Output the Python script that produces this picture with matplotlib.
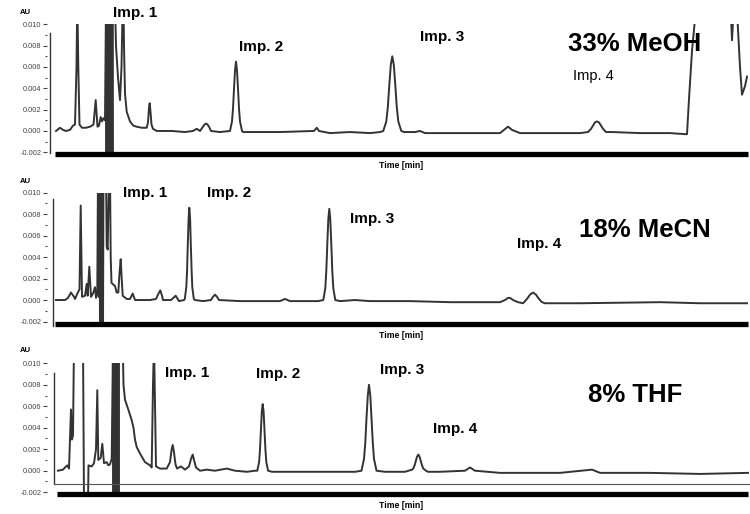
import matplotlib
matplotlib.use('Agg')
import matplotlib.pyplot as plt

plt.rcParams['font.family'] = ['Liberation Sans', 'DejaVu Sans']

# (retention time, absorbance AU)
meoh_trace = [
    (0.4, 0.0), (0.8, 0.0003), (1.1, 0.0001), (1.4, 0.0), (1.8, 0.0001), (2.1, 0.0005),
    (2.3, 0.0006), (2.45, 0.006), (2.53, 0.0125), (2.63, 0.006), (2.75, 0.0006), (3.0, 0.0003),
    (3.4, 0.0003), (3.8, 0.0004), (4.15, 0.0006), (4.37, 0.0029), (4.55, 0.0004), (4.7, 0.0005),
    (4.87, 0.0013), (5.0, 0.0009), (5.15, 0.0012), (5.3, 0.0010),
    (5.40, 0.012), (5.45, -0.003), (5.50, 0.012), (5.55, -0.003), (5.60, 0.012), (5.65, -0.003),
    (5.70, 0.012), (5.75, -0.003), (5.80, 0.012), (5.85, -0.003), (5.90, 0.012), (5.95, -0.003),
    (6.00, 0.012), (6.05, -0.003), (6.08, 0.012),
    (6.3, 0.012), (6.4, 0.008), (6.6, 0.005), (6.8, 0.0029), (6.95, 0.006), (7.07, 0.012),
    (7.15, 0.012), (7.2, 0.008), (7.3, 0.0035), (7.47, 0.0018), (7.8, 0.0009), (8.13, 0.0005),
    (8.47, 0.0004), (8.97, 0.0003), (9.47, 0.0003), (9.6, 0.0008), (9.7, 0.0022), (9.77, 0.0026),
    (9.85, 0.0018), (9.95, 0.0006), (10.1, 0.0002), (10.47, 0.0), (11.97, 0.0), (13.3, -0.0001),
    (14.1, 0.0), (14.47, 0.0002), (14.8, 0.0), (15.1, 0.0004), (15.25, 0.0006), (15.4, 0.0007),
    (15.55, 0.0006), (15.7, 0.0004), (15.9, 0.0), (16.8, -0.0001),
    (17.8, 0.0), (18.0, 0.0009), (18.1, 0.0021), (18.2, 0.0040), (18.3, 0.0057), (18.4, 0.0065),
    (18.5, 0.0057), (18.6, 0.0040), (18.7, 0.0021), (18.8, 0.0009), (19.0, 0.0), (19.1, -0.0001),
    (19.8, -0.0001), (22.8, -0.0001), (26.2, 0.0), (26.47, 0.0003), (26.7, 0.0), (27.8, -0.0002),
    (29.8, -0.0001), (31.8, -0.0002), (32.8, -0.0001),
    (33.13, 0.0), (33.43, 0.0009), (33.58, 0.0022), (33.73, 0.0043), (33.88, 0.0062),
    (34.03, 0.0070), (34.18, 0.0062), (34.33, 0.0043), (34.48, 0.0022), (34.63, 0.0009),
    (34.93, 0.0), (35.2, -0.0001),
    (36.3, -0.0001), (36.8, 0.0), (37.3, -0.0002), (39.8, -0.0002), (42.8, -0.0002),
    (44.8, -0.0002), (45.2, 0.0001), (45.45, 0.0003), (45.6, 0.0004), (45.75, 0.0003),
    (46.0, 0.0001), (46.8, -0.0002), (49.8, -0.0002), (52.8, -0.0002),
    (53.6, -0.0001), (53.9, 0.0002), (54.1, 0.0005), (54.3, 0.0008), (54.5, 0.0009),
    (54.7, 0.0008), (54.9, 0.0005), (55.1, 0.0002), (55.4, -0.0001), (56.0, -0.0001),
    (58.8, -0.0002), (61.8, -0.0002), (63.3, -0.0003), (63.5, -0.0003), (63.7, 0.0030),
    (64.0, 0.0075), (64.3, 0.0105), (64.6, 0.013), (67.8, 0.013), (68.0, 0.0085), (68.2, 0.012),
    (68.4, 0.013), (68.6, 0.0095), (68.8, 0.0060), (69.0, 0.0034), (69.3, 0.0042), (69.5, 0.0051),
]

mecn_trace = [
    (0.4, 0.0), (1.3, 0.0), (1.6, 0.0002), (1.9, 0.0007), (2.2, 0.0003), (2.3, 0.0001),
    (2.53, 0.0006), (2.75, 0.001), (2.87, 0.0088), (3.0, 0.0003), (3.3, 0.0004), (3.47, 0.0015),
    (3.57, 0.0004), (3.73, 0.0031), (3.9, 0.0003), (4.1, 0.0006), (4.3, 0.0012), (4.4, 0.0002),
    (4.53, 0.0010), (4.6, 0.012), (4.67, 0.0003), (4.75, 0.012), (4.8, -0.003), (4.87, 0.012),
    (4.95, -0.003), (5.05, 0.012), (5.1, -0.003), (5.15, 0.012), (5.4, 0.012), (5.47, 0.0050),
    (5.57, 0.0047), (5.7, 0.012), (5.8, 0.012), (5.87, 0.0040), (5.95, 0.0016), (6.3, 0.0013),
    (6.47, 0.0007), (6.63, 0.0007), (6.75, 0.0025), (6.87, 0.0038), (6.97, 0.0020),
    (7.07, 0.0004), (7.47, 0.0001), (7.8, 0.0001), (8.07, 0.0006), (8.3, 0.0), (9.8, 0.0),
    (10.4, 0.0001), (10.65, 0.0006), (10.83, 0.0009), (11.0, 0.0004), (11.1, 0.0), (11.9, 0.0),
    (12.37, 0.0004), (12.7, -0.0001),
    (13.2, 0.0), (13.28, 0.0001), (13.43, 0.0012), (13.51, 0.0028), (13.58, 0.0052),
    (13.66, 0.0076), (13.73, 0.0086), (13.81, 0.0076), (13.88, 0.0052), (13.96, 0.0028),
    (14.03, 0.0012), (14.18, 0.0001), (14.3, 0.0),
    (15.1, -0.0001), (15.9, 0.0), (16.1, 0.0003), (16.3, 0.0005), (16.5, 0.0003), (16.7, 0.0),
    (18.8, -0.0001), (22.8, -0.0001), (23.3, 0.0001), (23.8, -0.0001), (26.6, -0.0001),
    (27.13, 0.0), (27.33, 0.0011), (27.43, 0.0027), (27.53, 0.0052), (27.63, 0.0075),
    (27.73, 0.0085), (27.83, 0.0075), (27.93, 0.0052), (28.03, 0.0027), (28.13, 0.0011),
    (28.33, 0.0), (28.8, -0.0001),
    (30.3, 0.0), (31.8, -0.0001), (35.8, -0.0001), (39.8, -0.0002), (42.8, -0.0002),
    (44.8, -0.0002), (45.3, 0.0), (45.6, 0.0002), (45.8, 0.0002), (46.1, 0.0), (46.6, -0.0002),
    (47.1, -0.0003), (47.5, 0.0001), (47.8, 0.0005), (48.1, 0.0007), (48.4, 0.0005),
    (48.7, 0.0001), (49.0, -0.0002), (49.3, -0.0003), (52.8, -0.0003), (60.8, -0.0002),
    (64.8, -0.0003), (69.5, -0.0003),
]

thf_trace = [
    (0.6, 0.0), (1.1, 0.0001), (1.3, 0.0003), (1.53, 0.0005), (1.7, 0.0002), (1.8, 0.0029),
    (1.9, 0.0057), (2.0, 0.0029), (2.1, 0.0033), (2.2, 0.012), (3.1, 0.012), (3.2, -0.003),
    (3.6, -0.003), (3.65, 0.0005), (3.97, 0.0004), (4.2, 0.0007), (4.4, 0.0020), (4.53, 0.0075),
    (4.63, 0.0010), (4.87, 0.0012), (5.03, 0.0025), (5.2, 0.0007), (5.47, 0.0008),
    (5.63, 0.0005), (5.8, 0.0006), (5.97, 0.0011),
    (6.10, 0.012), (6.15, -0.003), (6.20, 0.012), (6.25, -0.003), (6.30, 0.012), (6.35, -0.003),
    (6.40, 0.012), (6.45, -0.003), (6.50, 0.012), (6.55, -0.003), (6.60, 0.012), (6.65, -0.003),
    (6.70, 0.012),
    (7.07, 0.012), (7.15, 0.008), (7.3, 0.0066), (7.63, 0.0057), (7.97, 0.0047), (8.15, 0.0040),
    (8.3, 0.0029), (8.47, 0.0022), (8.8, 0.0016), (9.3, 0.0008), (9.8, 0.0005), (9.97, 0.0003),
    (10.1, 0.008), (10.2, 0.012), (10.3, 0.006), (10.4, 0.0004), (10.8, 0.0002), (11.47, 0.0002),
    (11.8, 0.0008), (11.95, 0.0019), (12.07, 0.0024), (12.2, 0.0017), (12.35, 0.0006),
    (12.5, 0.0002), (12.9, 0.0004), (13.3, 0.0001), (13.7, 0.0004), (13.9, 0.0011),
    (14.07, 0.0015), (14.2, 0.0010), (14.4, 0.0003), (14.8, 0.0), (15.47, 0.0001), (16.3, 0.0),
    (17.47, 0.0002), (18.3, 0.0), (19.5, -0.0001),
    (20.3, 0.0), (20.53, 0.0), (20.71, 0.0008), (20.8, 0.0020), (20.89, 0.0038), (20.98, 0.0055),
    (21.07, 0.0062), (21.16, 0.0055), (21.25, 0.0038), (21.34, 0.0020), (21.43, 0.0008),
    (21.61, 0.0), (22.0, -0.0001), (24.8, -0.0001), (27.8, -0.0001), (30.3, -0.0001),
    (30.95, 0.0), (31.2, 0.0011), (31.33, 0.0026), (31.45, 0.0049), (31.58, 0.0070),
    (31.7, 0.0080), (31.83, 0.0070), (31.95, 0.0049), (32.08, 0.0026), (32.2, 0.0011),
    (32.45, 0.0), (33.3, -0.0001),
    (35.3, -0.0001), (36.0, 0.0001), (36.13, 0.0002), (36.26, 0.0005), (36.38, 0.0009),
    (36.5, 0.0013), (36.63, 0.0015), (36.76, 0.0013), (36.88, 0.0009), (37.0, 0.0005),
    (37.13, 0.0002), (37.4, 0.0), (37.6, -0.0001), (38.8, -0.0001), (41.3, 0.0),
    (41.8, 0.0003), (42.3, 0.0), (44.8, -0.0002), (50.8, -0.0002), (54.0, 0.0001),
    (54.8, -0.0002), (59.8, -0.0002), (64.8, -0.0003), (69.6, -0.0002),
]

major_ticks = [-0.002, 0.0, 0.002, 0.004, 0.006, 0.008, 0.010]
minor_ticks = [-0.001, 0.001, 0.003, 0.005, 0.007, 0.009]
tick_labels = ['-0.002', '0.000', '0.002', '0.004', '0.006', '0.008', '0.010']

W, H = 750, 514
fig = plt.figure(figsize=(7.5, 5.14), dpi=100)

panels = [
    dict(trace=meoh_trace, top=24.3, bot=152.3, spine_x=-0.2, spine_top=0.0092,
         spine_bot=-0.0021, bar_x0=0.3, thin=None,
         au=13, time_y=166, title='33% MeOH', title_xy=(568, 44),
         imps=[('Imp. 1', 113, 13, 'bold'), ('Imp. 2', 239, 47, 'bold'),
               ('Imp. 3', 420, 37, 'bold'), ('Imp. 4', 573, 76, 'normal')]),
    dict(trace=mecn_trace, top=192.7, bot=321.5, spine_x=0.07, spine_top=0.0094,
         spine_bot=-0.0024, bar_x0=0.3, thin=None,
         au=181, time_y=335, title='18% MeCN', title_xy=(579, 230),
         imps=[('Imp. 1', 123, 193, 'bold'), ('Imp. 2', 207, 193, 'bold'),
               ('Imp. 3', 350, 219, 'bold'), ('Imp. 4', 517, 244, 'bold')]),
    dict(trace=thf_trace, top=363.3, bot=492.2, spine_x=0.2, spine_top=0.0091,
         spine_bot=-0.00127, bar_x0=0.5, thin=-0.00127,
         au=351, time_y=505, title='8% THF', title_xy=(588, 395),
         imps=[('Imp. 1', 165, 373, 'bold'), ('Imp. 2', 256, 374, 'bold'),
               ('Imp. 3', 380, 370, 'bold'), ('Imp. 4', 433, 429, 'bold')]),
]

for p in panels:
    ax = fig.add_axes([47 / W, 1 - p['bot'] / H, 703 / W, (p['bot'] - p['top']) / H])
    t = [pt[0] for pt in p['trace']]
    au = [pt[1] for pt in p['trace']]
    ax.plot(t, au, color='#333333', lw=1.4, solid_joinstyle='round')
    ax.set_xlim(-0.5, 69.8)
    ax.set_ylim(-0.002, 0.010)
    for s in ['top', 'right', 'bottom', 'left']:
        ax.spines[s].set_visible(False)
    ax.set_xticks([])
    ax.set_yticks(major_ticks)
    ax.set_yticklabels(tick_labels)
    ax.set_yticks(minor_ticks, minor=True)
    ax.tick_params(axis='y', which='major', length=3, width=0.8, pad=1,
                   labelsize=5.3, colors='#444444')
    ax.tick_params(axis='y', which='minor', length=1.3, width=0.8, colors='#444444')
    ax.patch.set_alpha(0)

    # y axis line and the heavy time bar underneath
    ax.plot([p['spine_x'], p['spine_x']], [p['spine_bot'], p['spine_top']],
            color='#333333', lw=1.0, clip_on=False)
    ax.plot([p['bar_x0'], 69.6], [-0.0022, -0.0022], color='black', lw=3.8,
            solid_capstyle='butt', clip_on=False)
    if p['thin'] is not None:
        ax.plot([0.2, 69.8], [p['thin'], p['thin']], color='#555555', lw=0.8, clip_on=False)

    fig.text(20 / W, 1 - p['au'] / H, 'AU', fontsize=5.5, fontweight='bold',
             va='center', ha='left')
    fig.text(401 / W, 1 - p['time_y'] / H, 'Time [min]', fontsize=6.3, fontweight='bold',
             va='center', ha='center')
    fig.text(p['title_xy'][0] / W, 1 - p['title_xy'][1] / H, p['title'], fontsize=18.5,
             fontweight='bold', va='center', ha='left')
    for label, x, y, wt in p['imps']:
        fig.text(x / W, 1 - y / H, label, fontsize=11 if wt == 'bold' else 10.5,
                 fontweight=wt, va='center', ha='left')

fig.savefig('out.png', dpi=100)
